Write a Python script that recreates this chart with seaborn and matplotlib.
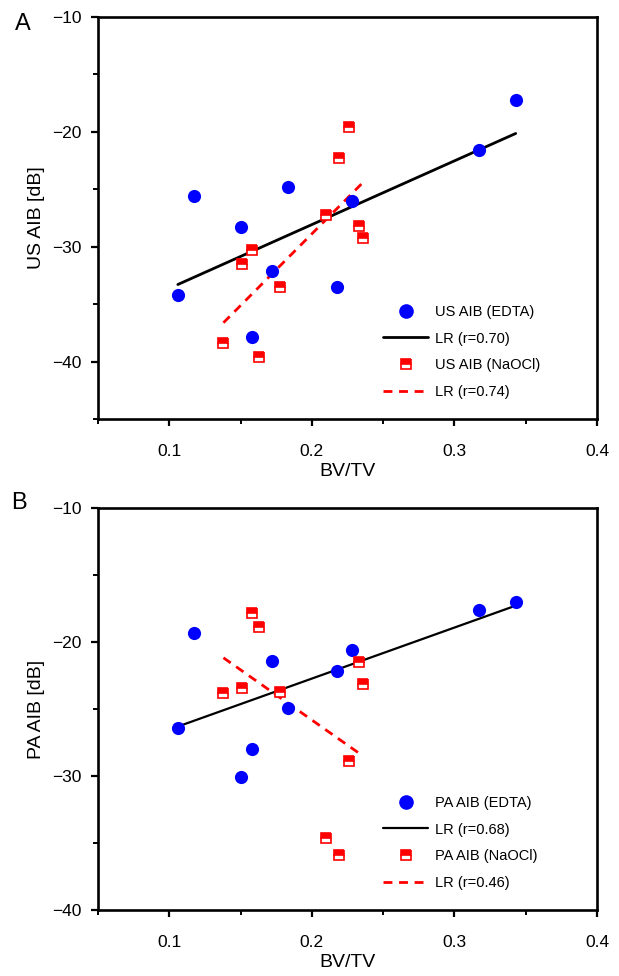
import matplotlib
matplotlib.use("Agg")
import matplotlib.pyplot as plt
from matplotlib.lines import Line2D
from matplotlib.ticker import MultipleLocator
import seaborn as sns
import numpy as np

# ---- data ----
edta_bvtv = [0.106, 0.117, 0.150, 0.158, 0.172, 0.183, 0.218, 0.228, 0.317, 0.343]
naocl_bvtv = [0.138, 0.151, 0.158, 0.163, 0.178, 0.210, 0.219, 0.226, 0.233, 0.236]

us_edta = [-34.2, -25.6, -28.3, -37.9, -32.1, -24.8, -33.5, -26.0, -21.6, -17.2]
us_naocl = [-38.4, -31.5, -30.3, -39.6, -33.5, -27.2, -22.3, -19.6, -28.2, -29.2]

pa_edta = [-26.4, -19.35, -30.1, -28.0, -21.4, -24.95, -22.2, -20.6, -17.6, -17.0]
pa_naocl = [-23.8, -23.4, -17.8, -18.9, -23.7, -34.6, -35.9, -28.9, -21.5, -23.1]

panels = [
    dict(tag="A", ylabel="US AIB [dB]", edta=us_edta, naocl=us_naocl,
         lab_e="US AIB (EDTA)", lab_n="US AIB (NaOCl)",
         r_e="LR (r=0.70)", r_n="LR (r=0.74)", ylim=(-45, -10), lw_k=2.0),
    dict(tag="B", ylabel="PA AIB [dB]", edta=pa_edta, naocl=pa_naocl,
         lab_e="PA AIB (EDTA)", lab_n="PA AIB (NaOCl)",
         r_e="LR (r=0.68)", r_n="LR (r=0.46)", ylim=(-40, -10), lw_k=1.6),
]
xticks = [0.1, 0.2, 0.3, 0.4]
yticks = [-40, -30, -20, -10]

# ---- style ----
sns.set_style("ticks")
plt.rcParams["font.family"] = ["Liberation Sans", "DejaVu Sans"]
plt.rcParams["axes.unicode_minus"] = True
plt.rcParams["text.color"] = "black"
plt.rcParams["axes.labelcolor"] = "black"
plt.rcParams["xtick.color"] = "black"
plt.rcParams["ytick.color"] = "black"

BLUE = "#0000FF"
RED = "#FF0000"

fig = plt.figure(figsize=(6.19, 9.76), dpi=100)
axes = [fig.add_axes([0.1583, 0.5707, 0.8061, 0.4119]),
        fig.add_axes([0.1583, 0.0676, 0.8061, 0.4119])]

sq_kw = dict(marker="s", markersize=7.5, fillstyle="top", markerfacecolor=RED,
             markerfacecoloralt="white", markeredgecolor=RED, markeredgewidth=1.2,
             linestyle="none")
circ_kw = dict(marker="o", markersize=9.5, markerfacecolor=BLUE,
               markeredgecolor=BLUE, linestyle="none")

for ax, p in zip(axes, panels):
    # regression lines
    sns.regplot(x=np.array(edta_bvtv), y=np.array(p["edta"]), scatter=False, ci=None,
                ax=ax, color="black", line_kws=dict(lw=p["lw_k"]))
    sns.regplot(x=np.array(naocl_bvtv), y=np.array(p["naocl"]), scatter=False, ci=None,
                ax=ax, color=RED, line_kws=dict(lw=2.0, ls=(0, (3.2, 2.4))))
    # points
    sns.scatterplot(x=edta_bvtv, y=p["edta"], ax=ax, color=BLUE, s=90,
                    edgecolor=BLUE, linewidth=0, zorder=3)
    ax.plot(naocl_bvtv, p["naocl"], zorder=4, **sq_kw)

    ax.set_xlim(0.05, 0.4)
    ax.set_ylim(*p["ylim"])
    ax.set_xticks(xticks)
    ax.set_xticklabels([f"{t:.1f}" for t in xticks])
    ax.set_yticks([t for t in yticks if t >= p["ylim"][0]])
    ax.xaxis.set_minor_locator(MultipleLocator(0.05))
    ax.yaxis.set_minor_locator(MultipleLocator(5))
    ax.tick_params(which="major", direction="out", length=5, width=1.6,
                   labelsize=12.5, top=False, right=False, colors="black")
    ax.tick_params(axis="x", which="major", pad=13)
    ax.tick_params(axis="y", which="major", pad=7)
    ax.tick_params(which="minor", direction="out", length=3.5, width=1.4,
                   top=False, right=False, colors="black")
    for s in ax.spines.values():
        s.set_visible(True)
        s.set_linewidth(1.9)
        s.set_color("black")
    ax.set_xlabel("BV/TV", fontsize=14, labelpad=3, color="black")
    ax.set_ylabel(p["ylabel"], fontsize=14, labelpad=5, color="black")

    handles = [Line2D([], [], **circ_kw),
               Line2D([], [], color="black", lw=p["lw_k"]),
               Line2D([], [], **sq_kw),
               Line2D([], [], color=RED, lw=2.0, ls=(0, (3.2, 2.4)))]
    labels = [p["lab_e"], p["r_e"], p["lab_n"], p["r_n"]]
    leg = ax.legend(handles, labels, loc="lower left", bbox_to_anchor=(0.545, 0.018),
                    frameon=False, fontsize=10.5, handlelength=3.1, handletextpad=0.45,
                    labelspacing=0.86, borderpad=0.4)
    for t in leg.get_texts():
        t.set_color("black")

fig.text(0.037, 0.975, "A", fontsize=17, ha="center", va="center", color="black")
fig.text(0.030, 0.485, "B", fontsize=17, ha="center", va="center", color="black")

fig.savefig("out.png", dpi=100)
